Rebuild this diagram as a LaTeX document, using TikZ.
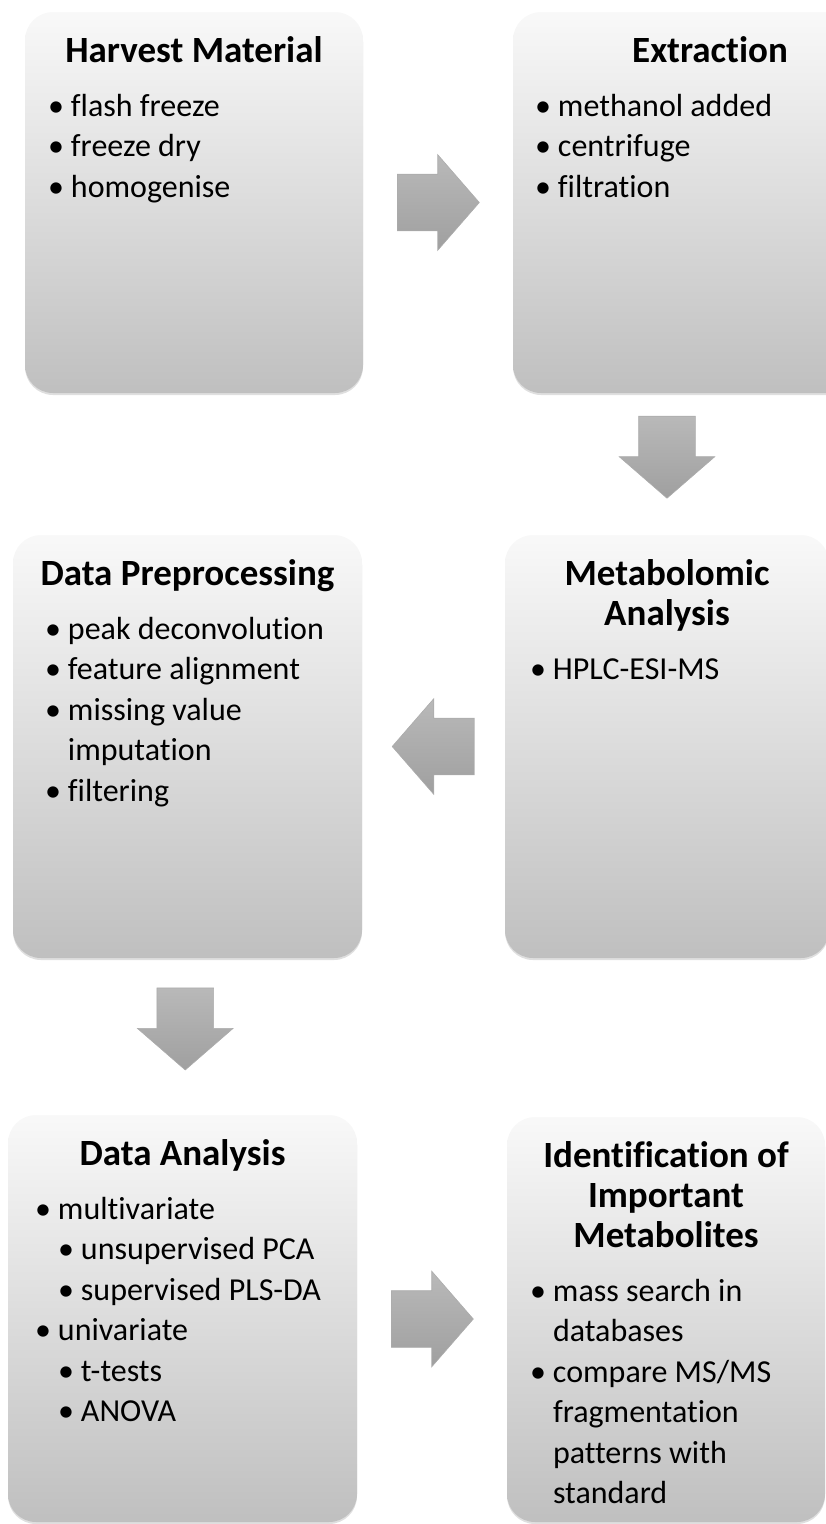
\documentclass[tikz,border=0pt]{standalone}
\usepackage{fontspec}
\setmainfont{Carlito}[Ligatures=NoCommon, RawFeature={-liga;-clig;-dlig}]
\usetikzlibrary{positioning,calc,shapes.arrows,shadows}

% one bullet line, a sub bullet line, and a wrapped line
\newcommand{\itm}[1]{\strut\makebox[23pt][l]{\textbullet}#1}
\newcommand{\subitm}[1]{\strut\hspace{23pt}\makebox[23pt][l]{\textbullet}#1}
\newcommand{\cont}[1]{\strut\hspace{23pt}#1}

\begin{document}
\begin{tikzpicture}[
  x=1pt, y=-1pt,
  stage/.style={rounded corners=28pt, inner sep=0pt, shading=axis, top color=gray!5, bottom color=gray!50,
    drop shadow={opacity=0.25, shadow xshift=0pt, shadow yshift=-2pt}},
  stagetitle/.style={font=\fontsize{37}{40}\selectfont\bfseries, align=center, inner sep=0pt},
  stagelist/.style={font=\fontsize{32}{40.5}\selectfont, align=left, inner sep=0pt, anchor=north west},
  blockarrow/.style={single arrow, anchor=tail, minimum height=82pt, inner xsep=0pt, inner ysep=28pt,
    single arrow head extend=19.5pt, single arrow tip angle=98,
    shading=axis, top color=gray!55, bottom color=gray!75, draw=gray!65, line width=0.6pt}
]
  \useasboundingbox (0,0) rectangle (826,1524);

  % the six stages
  \node[stage, minimum width=338pt, minimum height=381pt] (harvest) at (194,202.5) {};
  \node[stage, minimum width=394pt, minimum height=381pt] (extraction) at (710,202.5) {};
  \node[stage, minimum width=324pt, minimum height=423pt] (metabolomic) at (667,746.5) {};
  \node[stage, minimum width=349pt, minimum height=423pt] (preprocessing) at (187.5,746.5) {};
  \node[stage, minimum width=349pt, minimum height=407pt] (dataanalysis) at (182.5,1318.5) {};
  \node[stage, minimum width=318pt, minimum height=405pt] (identification) at (666,1319.5) {};

  % titles
  \node[stagetitle, below=22pt of harvest.north] (harvest-title) {\strut Harvest Material};
  \node[stagetitle, below=22pt of extraction.north] (extraction-title) {\strut Extraction};
  \node[stagetitle, below=22pt of metabolomic.north] (metabolomic-title) {\strut Metabolomic\\\strut Analysis};
  \node[stagetitle, below=22pt of preprocessing.north] (preprocessing-title) {\strut Data Preprocessing};
  \node[stagetitle, below=22pt of dataanalysis.north] (dataanalysis-title) {\strut Data Analysis};
  \node[stagetitle, below=22pt of identification.north] (identification-title)
    {\strut Identification of\\\strut Important\\\strut Metabolites};

  % bullet lists
  \node[stagelist] (harvest-list) at ($(harvest.west |- harvest-title.south)+(23,13.65)$)
    {\itm{flash freeze}\\\itm{freeze dry}\\\itm{homogenise}};
  \node[stagelist] (extraction-list) at ($(extraction.west |- extraction-title.south)+(22,13.65)$)
    {\itm{methanol added}\\\itm{centrifuge}\\\itm{filtration}};
  \node[stagelist] (metabolomic-list) at ($(metabolomic.west |- metabolomic-title.south)+(25,13.65)$)
    {\itm{HPLC-ESI-MS}};
  \node[stagelist] (preprocessing-list) at ($(preprocessing.west |- preprocessing-title.south)+(32,13.65)$)
    {\itm{peak deconvolution}\\\itm{feature alignment}\\\itm{missing value}\\\cont{imputation}\\\itm{filtering}};
  \node[stagelist] (dataanalysis-list) at ($(dataanalysis.west |- dataanalysis-title.south)+(27,13.65)$)
    {\itm{multivariate}\\\subitm{unsupervised PCA}\\\subitm{supervised PLS-DA}\\
     \itm{univariate}\\\subitm{t-tests}\\\subitm{ANOVA}};
  \node[stagelist] (identification-list) at ($(identification.west |- identification-title.south)+(23,13.65)$)
    {\itm{mass search in}\\\cont{databases}\\\itm{compare MS/MS}\\\cont{fragmentation}\\\cont{patterns with}\\\cont{standard}};

  % block arrows between the stages
  \node[blockarrow] (a-harvest-extraction) at ($(harvest.east)!0.5!(extraction.west)+(-41,0)$) {};
  \node[blockarrow, rotate=-90] (a-extraction-metabolomic)
    at ($(extraction.south -| metabolomic.north)!0.45!(metabolomic.north)+(0,-41)$) {};
  \node[blockarrow, rotate=180] (a-metabolomic-preprocessing)
    at ($(metabolomic.west)!0.5!(preprocessing.east)+(41,0)$) {};
  \node[blockarrow, rotate=-90] (a-preprocessing-dataanalysis)
    at ($(preprocessing.south)!0.45!(dataanalysis.north)+(0,-41)$) {};
  \node[blockarrow] (a-dataanalysis-identification) at ($(dataanalysis.east)!0.5!(identification.west)+(-41,0)$) {};
\end{tikzpicture}
\end{document}
